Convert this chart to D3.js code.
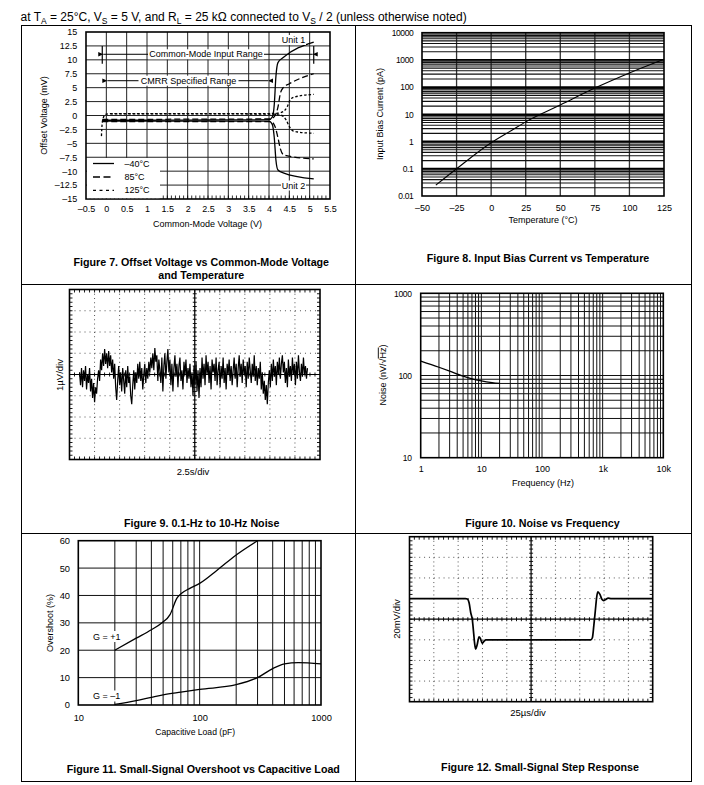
<!DOCTYPE html>
<html><head><meta charset="utf-8">
<script src="https://cdn.jsdelivr.net/npm/d3@7"></script>
<style>
body{margin:0;background:#fff}
text{font-family:"Liberation Sans",Arial,Helvetica,sans-serif;fill:#000}
</style>
</head><body><svg id="c" width="704" height="785"></svg>
<script>
// ================= DATA =================
// Figure 7 : offset voltage (mV) vs common-mode voltage (V)
const f7XTicks = [-0.5,0,0.5,1,1.5,2,2.5,3,3.5,4,4.5,5,5.5];
const f7YTicks = [15,12.5,10,7.5,5,2.5,0,-2.5,-5,-7.5,-10,-12.5,-15];
const f7Legend = ["–40°C","85°C","125°C"];
const f7_m40_unit1 = [[-0.1,-0.85],[1,-0.85],[2,-0.82],[3,-0.8],[4.0,-0.75],[4.08,-0.3],[4.13,2],[4.17,7],[4.22,9.5],[4.35,10.4],[5.1,13.2]];
const f7_m40_unit2 = [[-0.1,-1.0],[1,-1.0],[2,-1.0],[3,-1.0],[4.0,-1.0],[4.08,-1.6],[4.13,-4],[4.17,-8],[4.22,-9.8],[4.35,-10.3],[5.1,-11.4]];
const f7_85_unit1  = [[-0.1,-0.7],[1,-0.7],[2,-0.65],[3,-0.65],[4.05,-0.6],[4.15,0],[4.22,1.5],[4.28,4],[4.35,5],[4.5,5.7],[5.1,7.5]];
const f7_85_unit2  = [[-0.1,-1.1],[1,-1.1],[2,-1.1],[3,-1.1],[4.05,-1.1],[4.15,-2],[4.22,-4],[4.28,-6],[4.35,-7],[4.5,-7.3],[5.1,-7.8]];
const f7_125_unit1 = [[-0.12,-3.7],[-0.11,-2.2],[-0.09,-0.8],[-0.02,0.2],[0.1,0.35],[2,0.35],[4.0,0.35],[4.2,0.4],[4.35,0.7],[4.45,1.6],[4.52,2.8],[4.62,3.3],[5.1,3.8]];
const f7_125_unit2 = [[0.1,0.3],[2,0.3],[4.0,0.25],[4.3,0.05],[4.42,-0.8],[4.5,-2],[4.6,-2.8],[4.75,-3.0],[5.1,-3.2]];

// Figure 8 : input bias current (pA) vs temperature (°C)
const f8XTicks = [-50,-25,0,25,50,75,100,125];
const f8YTicks = [0.01,0.1,1,10,100,1000,10000];
const f8Temp  = [-40,-25,0,15,25,50,75,100,125];
const f8Ibias = [0.025,0.1,0.9,2.6,5.3,22,92,330,1050];

// Figure 9 : 0.1-Hz to 10-Hz noise, trace in divisions (1 µV/div)
const f9Noise = [
 0.1,-0.5,0.3,-0.6,0.2,-0.3,0.4,-0.7,0.0,-0.4,
 0.3,-0.8,-0.2,-1.1,-0.4,-1.3,-0.6,-0.9,-0.2,0.2,
 -0.3,0.7,0.2,1.0,0.4,1.2,0.5,1.0,0.3,1.1,
 0.4,0.9,0.1,0.7,-0.2,0.5,-0.6,-1.2,-0.3,0.4,
 -0.5,0.1,-0.8,0.3,-0.3,-0.9,0.2,-0.6,0.4,-0.4,
 -0.1,-1.0,-1.4,-0.5,0.2,-0.7,0.1,-0.4,0.5,-0.2,
 0.6,-0.3,0.3,-0.7,0.0,0.5,-0.4,0.3,-0.2,0.6,
 0.1,0.8,0.3,1.0,0.2,1.25,0.6,0.9,-0.3,0.7,
 0.2,-0.4,0.8,-0.8,0.4,1.0,-0.2,0.6,1.2,0.1,
 0.7,-0.5,0.5,-0.8,0.3,0.9,-0.1,0.5,-0.6,0.4,
 0.8,-0.3,0.2,-0.7,0.6,0.0,0.7,-0.4,0.3,-0.2,
 0.5,-0.6,0.1,-1.0,0.4,-0.5,0.6,-0.8,0.2,-1.1,
 0.3,-0.6,0.8,-0.2,0.5,-0.5,0.9,0.0,0.6,-0.4,
 0.4,-0.7,0.7,0.1,0.5,-0.3,0.8,-0.5,0.2,0.6,
 -0.6,0.4,-0.2,0.8,-0.4,0.3,-0.7,0.5,0.0,0.7,
 -0.3,0.4,-0.5,0.2,0.8,-0.2,0.5,-0.6,0.3,0.9,
 -0.1,0.5,-0.4,0.7,0.0,0.4,-0.6,0.6,-0.2,0.8,
 0.2,-0.4,0.5,-0.1,0.9,-0.3,0.4,-0.5,0.3,-0.2,
 0.6,-0.7,0.1,-0.9,-0.3,-1.2,-0.5,-1.4,-0.4,0.2,
 -0.6,0.5,-0.3,0.7,-0.1,0.4,-0.5,0.6,0.0,0.8,
 -0.2,0.5,0.9,0.1,0.6,-0.4,0.3,-0.6,0.7,-0.1,
 0.4,-0.3,0.8,0.0,0.5,-0.5,0.6,-0.2,0.9,0.1,
 -0.3,0.5,-0.1,0.8,0.0,0.4,-0.2,0.3];
const f9TraceSpan = [0.4, 9.5]; // start / end, in time divisions

// Figure 10 : noise (nV/√Hz) vs frequency (Hz)
const f10XTicks = [1,10,100,1000,10000];
const f10XLabels = ["1","10","100","1k","10k"];
const f10YTicks = [10,100,1000];
const f10Freq  = [1,2,3,5,7,10,15,20];
const f10Noise = [150,126,113,98,91,86,82,80];

// Figure 11 : overshoot (%) vs capacitive load (pF)
const f11XTicks = [10,100,1000];
const f11YTicks = [0,10,20,30,40,50,60];
const f11CapGp1 = [20,30,40,49,57,65,71,83,100,140,200,300];
const f11OsGp1  = [20,24.4,27.5,30,33,39,40.8,42.6,44.4,49.3,54.8,60];
const f11CapGm1 = [20,30,40,50,70,100,200,300,400,500,650,1000];
const f11OsGm1  = [0.2,1.6,2.8,3.7,4.7,5.7,7.4,10,13.3,15,15.5,15];

// Figure 12 : small-signal step response (divisions; 25 µs/div, 20 mV/div)
const f12T = [0,2.3,2.38,2.45,2.52,2.58,2.64,2.68,2.72,2.78,2.86,2.92,2.99,3.06,3.14,3.3,7.45,7.52,7.58,7.64,7.7,7.75,7.83,7.92,7.98,8.06,8.17,8.3,10];
const f12V = [1,1,0.98,0.8,0.3,0,-0.7,-1.2,-1.45,-1.25,-0.85,-0.95,-1.17,-1.08,-1.0,-1.0,-1.0,-0.9,-0.3,0.4,1.1,1.33,1.2,0.95,0.9,0.95,1.02,1.0,1.0];

// ================= DRAWING =================
const FONT = '"Liberation Sans", Arial, Helvetica, sans-serif';
const svg = d3.select('#c');
svg.append('rect').attr('width',704).attr('height',785).attr('fill','#fff');

function txt(g,x,y,s,o={}){
  const t=g.append('text').attr('x',x).attr('y',y).text(s)
    .attr('font-size',o.size||9).attr('text-anchor',o.anchor||'middle');
  if(o.bold) t.attr('font-weight','bold');
  if(o.dy) t.attr('dy',o.dy);
  if(o.rotate) t.attr('transform',`rotate(-90,${x},${y})`);
  return t;
}
function ln(g,x1,y1,x2,y2,w,c,dash){
  const l=g.append('line').attr('x1',x1).attr('y1',y1).attr('x2',x2).attr('y2',y2)
    .attr('stroke',c||'#000').attr('stroke-width',w||1);
  if(dash) l.attr('stroke-dasharray',dash);
  return l;
}
function axisLabels(g,axis,x,y,size,extra){
  const a=g.append('g').attr('transform',`translate(${x},${y})`).call(axis);
  a.select('.domain').remove(); a.selectAll('.tick line').remove();
  a.attr('font-family',FONT).attr('font-size',size);
  a.selectAll('text').attr('fill','#000');
  if(extra) a.selectAll('text').attr('letter-spacing',extra);
  return a;
}
const fmtMinus = d => d<0 ? '–'+Math.abs(d) : String(d);

// ---- header ----
const hdr=svg.append('text').attr('x',20.5).attr('y',20.5).attr('font-size',12);
[["at T",0],["A",1],[" = 25°C, V",0],["S",1],[" = 5 V, and R",0],["L",1],[" = 25 kΩ connected to V",0],["S",1],[" / 2 (unless otherwise noted)",0]]
 .forEach(([s,sub],i)=>{ const t=hdr.append('tspan').text(s);
   if(sub) t.attr('font-size',8.5).attr('dy',3); else t.attr('dy',i>0?-3:0); });

// ---- table frame ----
const fr=svg.append('g');
[21.5,355.5,691.5].forEach(x=>ln(fr,x,25,x,782,1));
[25.5,284.5,533.5,781.5].forEach(y=>ln(fr,21.5,y,691.5,y,1));

// ================= FIGURE 7 =================
(function(){
  const g=svg.append('g');
  const x=d3.scaleLinear([-0.5,5.5],[86,330]);
  const y=d3.scaleLinear([-15,15],[199,32]);
  f7XTicks.slice(1,-1).forEach(v=>ln(g,x(v),32,x(v),199,1,'#222'));
  f7YTicks.slice(1,-1).forEach(v=>ln(g,86,y(v),330,y(v),1,'#222'));
  d3.range(1,60).forEach(i=>{const v=-0.5+i*0.1; ln(g,x(v),199,x(v),195.5,0.8,'#000');});
  g.append('rect').attr('x',86).attr('y',32).attr('width',244).attr('height',167).attr('fill','none').attr('stroke','#000').attr('stroke-width',1.6);
  axisLabels(g,d3.axisLeft(y).tickValues(f7YTicks).tickSize(0).tickPadding(8.7).tickFormat(fmtMinus),86,0,9);
  axisLabels(g,d3.axisBottom(x).tickValues(f7XTicks).tickSize(0).tickPadding(7.1).tickFormat(fmtMinus),0,199,9);
  txt(g,207.5,227,"Common-Mode Voltage (V)",{size:9});
  txt(g,44,115.5,"Offset Voltage (mV)",{size:9,rotate:true,dy:'0.35em'});

  // annotations
  const arrow=(px,py,dir)=>g.append('path').attr('d',`M${px},${py}l${-dir*5},-2.2v4.4z`).attr('fill','#000');
  const yA=y(11);
  ln(g,x(-0.1),y(12.5),x(-0.1),y(9.3),1.2);
  ln(g,x(5.1),y(12.5),x(5.1),y(9.3),1.2);
  ln(g,x(-0.1)+1,yA,x(5.1)-1,yA,1);
  arrow(x(-0.1)+1,yA,1); arrow(x(5.1)-1,yA,-1);
  g.append('rect').attr('x',148).attr('y',yA-5).attr('width',116).attr('height',10).attr('fill','#fff');
  txt(g,206,yA,"Common-Mode Input Range",{size:9,dy:'0.35em'});
  const yB=y(6.25);
  ln(g,x(0)+1,yB,x(4.0)-1,yB,1);
  arrow(x(0)+1,yB,1); arrow(x(4.0)-1,yB,-1);
  g.append('rect').attr('x',138.5).attr('y',yB-5).attr('width',100).attr('height',10).attr('fill','#fff');
  txt(g,188.5,yB,"CMRR Specified Range",{size:9,dy:'0.35em'});

  // curves
  const line=d3.line().x(d=>x(d[0])).y(d=>y(d[1])).curve(d3.curveMonotoneX);
  const styles=[null,'6,3','2.5,2'];
  [[f7_125_unit1,2],[f7_125_unit2,2],[f7_85_unit1,1],[f7_85_unit2,1],[f7_m40_unit1,0],[f7_m40_unit2,0]].forEach(([d,s])=>{
    const p=g.append('path').attr('d',line(d)).attr('fill','none').attr('stroke','#000').attr('stroke-width',1.3);
    if(styles[s]) p.attr('stroke-dasharray',styles[s]);
  });
  g.append('rect').attr('x',281).attr('y',35).attr('width',25).attr('height',10).attr('fill','#fff');
  txt(g,293.5,40,"Unit 1",{size:9,dy:'0.35em'});
  g.append('rect').attr('x',281).attr('y',180.5).attr('width',25).attr('height',10).attr('fill','#fff');
  txt(g,293.5,185.7,"Unit 2",{size:9,dy:'0.35em'});
  // legend
  g.append('rect').attr('x',87).attr('y',158).attr('width',73).attr('height',40.2).attr('fill','#fff');
  const ly=[163.5,177,190.3];
  f7Legend.forEach((s,i)=>{
    const l=ln(g,93,ly[i],114,ly[i],1.3);
    if(styles[i]) l.attr('stroke-dasharray',i===1?'7,3.5':'3,3.5');
    txt(g,124.5,ly[i],s,{size:9,anchor:'start',dy:'0.35em'});
  });
  txt(g,201.3,265.5,"Figure 7. Offset Voltage vs Common-Mode Voltage",{size:10.7,bold:true});
  txt(g,201.3,279,"and Temperature",{size:10.7,bold:true});
})();

// ================= FIGURE 8 =================
(function(){
  const g=svg.append('g');
  const x=d3.scaleLinear([-50,125],[422,664]);
  const y=d3.scaleLog([0.01,10000],[196,32.7]);
  f8XTicks.slice(1,-1).forEach(v=>ln(g,x(v),32.7,x(v),196,1.3,'#333'));
  for(let e=-2;e<4;e++) for(let k=2;k<10;k++){const v=k*Math.pow(10,e); ln(g,422,y(v),664,y(v),1.1,'#111');}
  f8YTicks.slice(1,-1).forEach(v=>ln(g,422,y(v),664,y(v),1.9,'#000'));
  g.append('rect').attr('x',422).attr('y',32.7).attr('width',242).attr('height',163.3).attr('fill','none').attr('stroke','#000').attr('stroke-width',1.6);
  axisLabels(g,d3.axisLeft(y).tickValues(f8YTicks).tickSize(0).tickPadding(8.7).tickFormat(d=>String(d)),422,0,8.5,'-0.4');
  axisLabels(g,d3.axisBottom(x).tickValues(f8XTicks).tickSize(0).tickPadding(8.6).tickFormat(fmtMinus),0,196,9);
  txt(g,543,223,"Temperature (°C)",{size:9});
  txt(g,380,114,"Input Bias Current (pA)",{size:9,rotate:true,dy:'0.35em'});
  const line=d3.line().x((d,i)=>x(f8Temp[i])).y(d=>y(d)).curve(d3.curveMonotoneX);
  g.append('path').attr('d',line(f8Ibias)).attr('fill','none').attr('stroke','#000').attr('stroke-width',1.1);
  txt(g,538,262,"Figure 8. Input Bias Current vs Temperature",{size:10.7,bold:true});
})();

// ================= SCOPE helper =================
function scope(g,xs,ys){
  const x0=xs(0),x1=xs(10),yT=ys(4),yB=ys(-4);
  const dW=xs(1)-xs(0), dH=ys(0)-ys(1);
  for(let i=1;i<10;i++) if(i!==5) ln(g,xs(i),yT,xs(i),yB,1,'#555','1,'+(dH/5-1));
  for(let j=-3;j<=3;j++) if(j!==0) ln(g,x0,ys(j),x1,ys(j),1,'#555','1,'+(dW/5-1));
  ln(g,xs(5),yT,xs(5),yB,1.2); ln(g,x0,ys(0),x1,ys(0),1.2);
  for(let k=1;k<50;k++){const xv=xs(k/5);
    ln(g,xv,yT,xv,yT+3,0.9); ln(g,xv,yB,xv,yB-3,0.9); ln(g,xv,ys(0)-2,xv,ys(0)+2,0.9);}
  for(let k=1;k<40;k++){const yv=ys(-4+k/5);
    ln(g,x0,yv,x0+3,yv,0.9); ln(g,x1,yv,x1-3,yv,0.9); ln(g,xs(5)-2,yv,xs(5)+2,yv,0.9);}
  g.append('rect').attr('x',x0).attr('y',yT).attr('width',x1-x0).attr('height',yB-yT).attr('fill','none').attr('stroke','#000').attr('stroke-width',1.6);
}

// ================= FIGURE 9 =================
(function(){
  const g=svg.append('g');
  const xs=d3.scaleLinear([0,10],[69.5,320]);
  const ys=d3.scaleLinear([-4,4],[459.5,289.5]);
  scope(g,xs,ys);
  const xi=d3.scaleLinear([0,f9Noise.length-1],[xs(f9TraceSpan[0]),xs(f9TraceSpan[1])]);
  const line=d3.line().x((d,i)=>xi(i)).y(d=>ys(d));
  g.append('path').attr('d',line(f9Noise)).attr('fill','none').attr('stroke','#000').attr('stroke-width',1.2);
  txt(g,60,375,"1µV/div",{size:9.5,rotate:true,dy:'0.35em'});
  txt(g,193,475,"2.5s/div",{size:9.5});
  txt(g,201.7,527,"Figure 9. 0.1-Hz to 10-Hz Noise",{size:10.7,bold:true});
})();

// ================= FIGURE 10 =================
(function(){
  const g=svg.append('g');
  const x=d3.scaleLog([1,10000],[420.7,663.3]);
  const y=d3.scaleLog([10,1000],[457.7,293.3]);
  for(let e=0;e<4;e++) for(let k=1;k<10;k++){const v=k*Math.pow(10,e); if(v>1) ln(g,x(v),293.3,x(v),457.7,1,'#111');}
  for(let e=1;e<3;e++) for(let k=1;k<10;k++){const v=k*Math.pow(10,e); if(v>10) ln(g,420.7,y(v),663.3,y(v),1,'#111');}
  g.append('rect').attr('x',420.7).attr('y',293.3).attr('width',242.6).attr('height',164.4).attr('fill','none').attr('stroke','#000').attr('stroke-width',1.6);
  axisLabels(g,d3.axisLeft(y).tickValues(f10YTicks).tickSize(0).tickPadding(9).tickFormat(d=>String(d)),420.7,0,8.5,'-0.3');
  axisLabels(g,d3.axisBottom(x).tickValues(f10XTicks).tickSize(0).tickPadding(8.4).tickFormat((d,i)=>f10XLabels[i]),0,457.7,9);
  txt(g,543,485.5,"Frequency (Hz)",{size:9});
  const t=txt(g,382.7,375,"",{size:9,rotate:true,dy:'0.35em'});
  t.append('tspan').text("Noise (nV/√");
  t.append('tspan').text("Hz").attr('text-decoration','overline').style('text-decoration','overline');
  t.append('tspan').text(")");
  const line=d3.line().x((d,i)=>x(f10Freq[i])).y(d=>y(d)).curve(d3.curveMonotoneX);
  g.append('path').attr('d',line(f10Noise)).attr('fill','none').attr('stroke','#000').attr('stroke-width',1.3);
  txt(g,542.5,527,"Figure 10. Noise vs Frequency",{size:10.7,bold:true});
})();

// ================= FIGURE 11 =================
(function(){
  const g=svg.append('g');
  const x=d3.scaleLog([10,1000],[78.3,321]);
  const y=d3.scaleLinear([0,60],[705,540.7]);
  for(let e=1;e<3;e++) for(let k=1;k<10;k++){const v=k*Math.pow(10,e); if(v>10) ln(g,x(v),540.7,x(v),705,1,'#111');}
  f11YTicks.slice(1,-1).forEach(v=>ln(g,78.3,y(v),321,y(v),1,'#111'));
  g.append('rect').attr('x',78.3).attr('y',540.7).attr('width',242.7).attr('height',164.3).attr('fill','none').attr('stroke','#000').attr('stroke-width',1.6);
  axisLabels(g,d3.axisLeft(y).tickValues(f11YTicks).tickSize(0).tickPadding(8.3).tickFormat(d=>String(d)),78.3,0,9.3);
  axisLabels(g,d3.axisBottom(x).tickValues(f11XTicks).tickSize(0).tickPadding(9).tickFormat(d=>String(d)),0,705,9.3);
  txt(g,195.2,735,"Capacitive Load (pF)",{size:8.6});
  txt(g,49.5,623,"Overshoot (%)",{size:9,rotate:true,dy:'0.35em'});
  const line=d3.line().curve(d3.curveMonotoneX);
  const p1=f11CapGp1.map((c,i)=>[x(c),y(f11OsGp1[i])]);
  const p2=f11CapGm1.map((c,i)=>[x(c),y(f11OsGm1[i])]);
  g.append('path').attr('d',line(p1)).attr('fill','none').attr('stroke','#000').attr('stroke-width',1.3);
  g.append('path').attr('d',line(p2)).attr('fill','none').attr('stroke','#000').attr('stroke-width',1.3);
  g.append('rect').attr('x',91).attr('y',631).attr('width',34).attr('height',11).attr('fill','#fff');
  txt(g,93,636.7,"G = +1",{size:9,anchor:'start',dy:'0.35em'});
  g.append('rect').attr('x',91).attr('y',690.5).attr('width',34).attr('height',11).attr('fill','#fff');
  txt(g,93,696,"G = –1",{size:9,anchor:'start',dy:'0.35em'});
  txt(g,203.3,772.8,"Figure 11. Small-Signal Overshoot vs Capacitive Load",{size:10.7,bold:true});
})();

// ================= FIGURE 12 =================
(function(){
  const g=svg.append('g');
  const xs=d3.scaleLinear([0,10],[409.5,652.7]);
  const ys=d3.scaleLinear([-4,4],[701.7,536.7]);
  scope(g,xs,ys);
  const line=d3.line().x((d,i)=>xs(f12T[i])).y(d=>ys(d)).curve(d3.curveMonotoneX);
  g.append('path').attr('d',line(f12V)).attr('fill','none').attr('stroke','#000').attr('stroke-width',1.7);
  txt(g,396.7,619,"20mV/div",{size:9.5,rotate:true,dy:'0.35em'});
  txt(g,528,716,"25µs/div",{size:9.5});
  txt(g,540,771,"Figure 12. Small-Signal Step Response",{size:10.7,bold:true});
})();
</script></body></html>
